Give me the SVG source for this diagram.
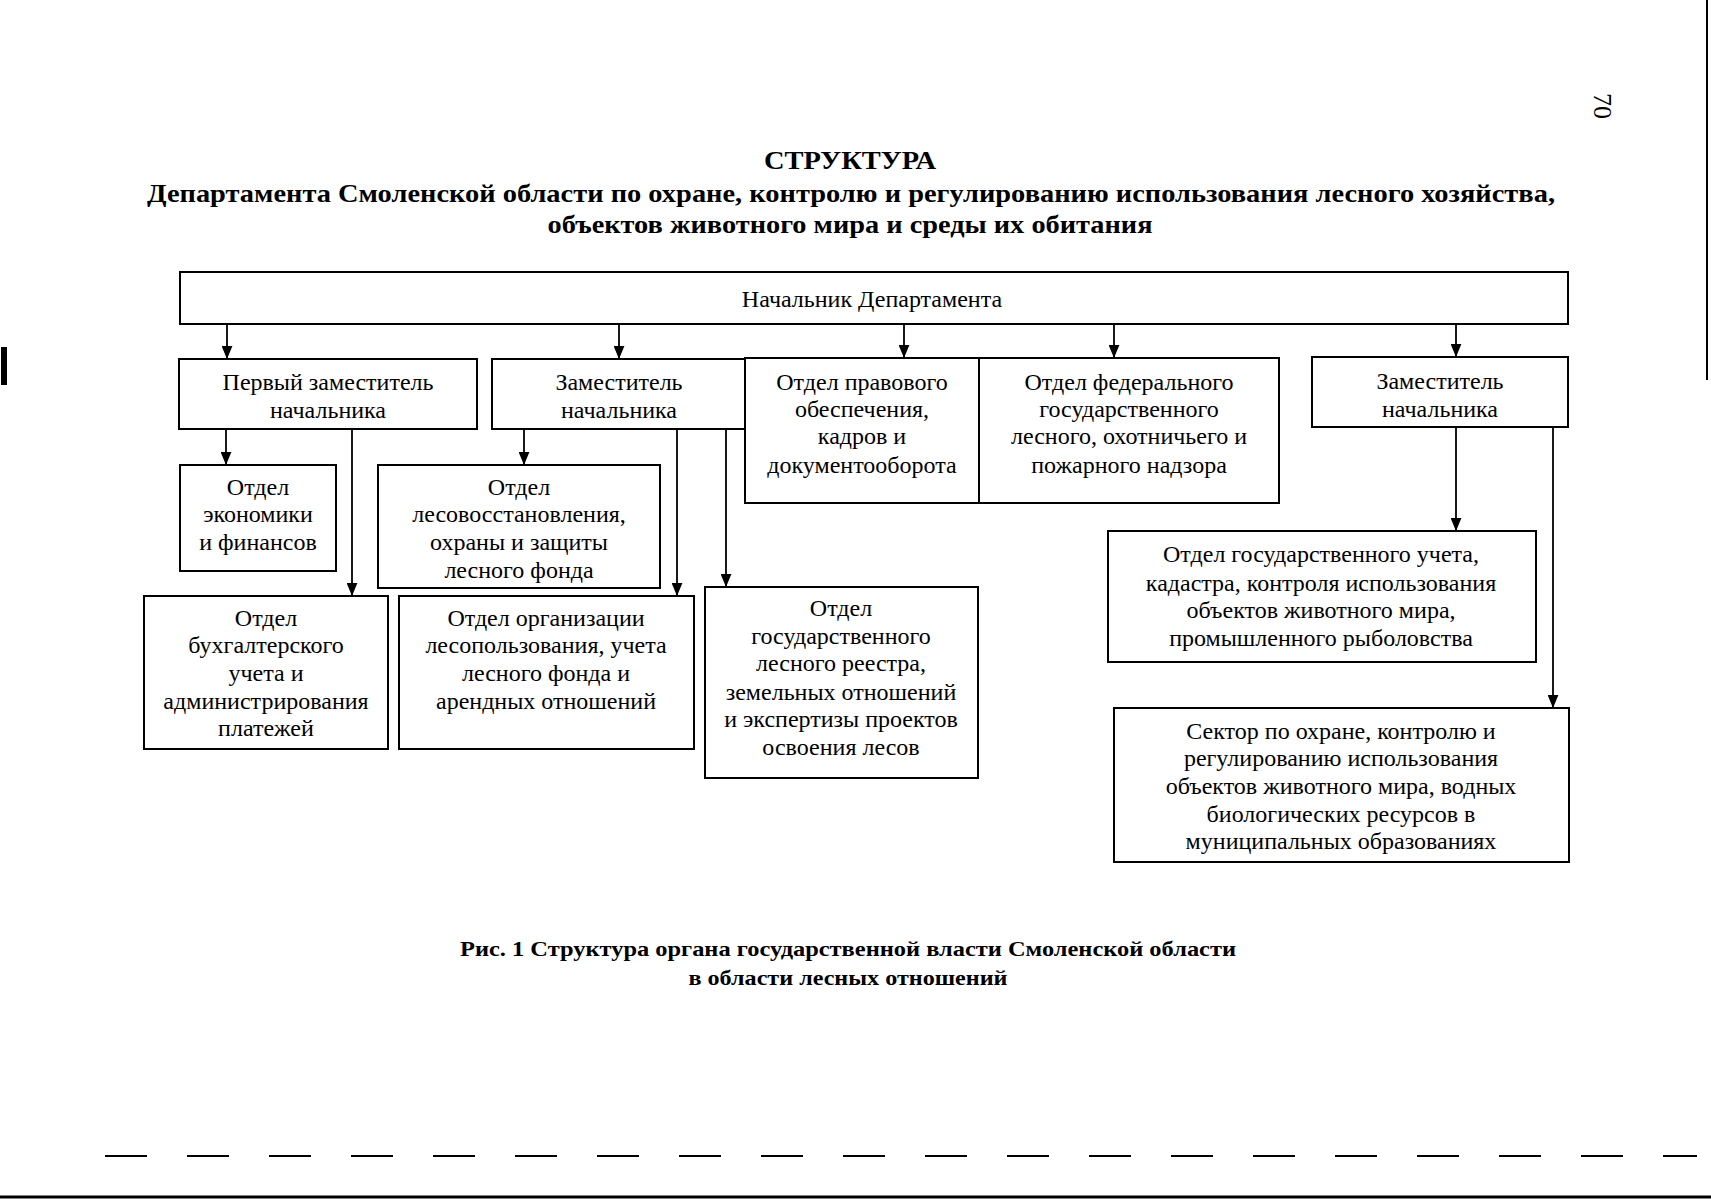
<svg xmlns="http://www.w3.org/2000/svg" width="1711" height="1200" viewBox="0 0 1711 1200">
<style>
  .box { fill: #ffffff; stroke: #000000; stroke-width: 2; }
  .t { font-family: "Liberation Serif", "Times New Roman", serif; font-size: 24px; fill: #000000; text-anchor: middle; }
  .h { font-family: "Liberation Serif", "Times New Roman", serif; font-weight: bold; fill: #000000; text-anchor: middle; }
  .c { stroke: #000000; stroke-width: 1.8; fill: none; marker-end: url(#arr); }
  .art { fill: #000000; }
</style>
<defs>
  <marker id="arr" viewBox="0 0 12 10" markerUnits="userSpaceOnUse" markerWidth="13" markerHeight="11" refX="12" refY="5" orient="auto">
    <path d="M0,0 L12,5 L0,10 z" fill="#000000"/>
  </marker>
</defs>
<rect width="1711" height="1200" fill="#ffffff"/>

<!-- Title -->
<g id="title">
  <text class="h" x="850" y="169" font-size="26" textLength="172" lengthAdjust="spacingAndGlyphs">СТРУКТУРА</text>
  <text class="h" x="851" y="202" font-size="25" textLength="1408" lengthAdjust="spacingAndGlyphs">Департамента Смоленской области по охране, контролю и регулированию использования лесного хозяйства,</text>
  <text class="h" x="850" y="233" font-size="25" textLength="605" lengthAdjust="spacingAndGlyphs">объектов животного мира и среды их обитания</text>
</g>

<!-- Connectors -->
<g id="connectors">
  <line class="c" x1="227" y1="324" x2="227" y2="359"/>
  <line class="c" x1="619" y1="324" x2="619" y2="359"/>
  <line class="c" x1="904" y1="324" x2="904" y2="358"/>
  <line class="c" x1="1114" y1="324" x2="1114" y2="358"/>
  <line class="c" x1="1456" y1="324" x2="1456" y2="357"/>
  <line class="c" x1="226" y1="429" x2="226" y2="465"/>
  <line class="c" x1="352" y1="429" x2="352" y2="596"/>
  <line class="c" x1="524" y1="429" x2="524" y2="465"/>
  <line class="c" x1="677" y1="429" x2="677" y2="596"/>
  <line class="c" x1="726" y1="429" x2="726" y2="587"/>
  <line class="c" x1="1456" y1="427" x2="1456" y2="531"/>
  <line class="c" x1="1553" y1="427" x2="1553" y2="708"/>
</g>

<!-- Nodes -->
<g id="n-head">
  <rect class="box" x="180" y="272" width="1388" height="52"/>
  <text class="t" x="872" y="307">Начальник Департамента</text>
</g>
<g id="n-first-deputy">
  <rect class="box" x="179" y="359" width="298" height="70"/>
  <text class="t" x="328" y="390">Первый заместитель</text>
  <text class="t" x="328" y="418">начальника</text>
</g>
<g id="n-deputy-1">
  <rect class="box" x="492" y="359" width="253" height="70"/>
  <text class="t" x="619" y="390">Заместитель</text>
  <text class="t" x="619" y="418">начальника</text>
</g>
<g id="n-legal">
  <rect class="box" x="745" y="358" width="234" height="145"/>
  <text class="t" x="862" y="390">Отдел правового</text>
  <text class="t" x="862" y="417">обеспечения,</text>
  <text class="t" x="862" y="444">кадров и</text>
  <text class="t" x="862" y="473">документооборота</text>
</g>
<g id="n-federal">
  <rect class="box" x="979" y="358" width="300" height="145"/>
  <text class="t" x="1129" y="390">Отдел федерального</text>
  <text class="t" x="1129" y="417">государственного</text>
  <text class="t" x="1129" y="444">лесного, охотничьего и</text>
  <text class="t" x="1129" y="473">пожарного надзора</text>
</g>
<g id="n-deputy-2">
  <rect class="box" x="1312" y="357" width="256" height="70"/>
  <text class="t" x="1440" y="389">Заместитель</text>
  <text class="t" x="1440" y="417">начальника</text>
</g>
<g id="n-economy">
  <rect class="box" x="180" y="465" width="156" height="106"/>
  <text class="t" x="258" y="495">Отдел</text>
  <text class="t" x="258" y="522">экономики</text>
  <text class="t" x="258" y="550">и финансов</text>
</g>
<g id="n-reforest">
  <rect class="box" x="378" y="465" width="282" height="123"/>
  <text class="t" x="519" y="495">Отдел</text>
  <text class="t" x="519" y="522">лесовосстановления,</text>
  <text class="t" x="519" y="550">охраны и защиты</text>
  <text class="t" x="519" y="578">лесного фонда</text>
</g>
<g id="n-accounting">
  <rect class="box" x="144" y="596" width="244" height="153"/>
  <text class="t" x="266" y="626">Отдел</text>
  <text class="t" x="266" y="653">бухгалтерского</text>
  <text class="t" x="266" y="681">учета и</text>
  <text class="t" x="266" y="709">администрирования</text>
  <text class="t" x="266" y="736">платежей</text>
</g>
<g id="n-forest-use">
  <rect class="box" x="399" y="596" width="295" height="153"/>
  <text class="t" x="546" y="626">Отдел организации</text>
  <text class="t" x="546" y="653">лесопользования, учета</text>
  <text class="t" x="546" y="681">лесного фонда и</text>
  <text class="t" x="546" y="709">арендных отношений</text>
</g>
<g id="n-registry">
  <rect class="box" x="705" y="587" width="273" height="191"/>
  <text class="t" x="841" y="616">Отдел</text>
  <text class="t" x="841" y="644">государственного</text>
  <text class="t" x="841" y="671">лесного реестра,</text>
  <text class="t" x="841" y="700">земельных отношений</text>
  <text class="t" x="841" y="727">и экспертизы проектов</text>
  <text class="t" x="841" y="755">освоения лесов</text>
</g>
<g id="n-wildlife-account">
  <rect class="box" x="1108" y="531" width="428" height="131"/>
  <text class="t" x="1321" y="562">Отдел государственного учета,</text>
  <text class="t" x="1321" y="591">кадастра, контроля использования</text>
  <text class="t" x="1321" y="618">объектов животного мира,</text>
  <text class="t" x="1321" y="646">промышленного рыболовства</text>
</g>
<g id="n-sector">
  <rect class="box" x="1114" y="708" width="455" height="154"/>
  <text class="t" x="1341" y="739">Сектор по охране, контролю и</text>
  <text class="t" x="1341" y="766">регулированию использования</text>
  <text class="t" x="1341" y="794">объектов животного мира, водных</text>
  <text class="t" x="1341" y="822">биологических ресурсов в</text>
  <text class="t" x="1341" y="849">муниципальных образованиях</text>
</g>

<!-- Caption -->
<g id="caption">
  <text class="h" x="848" y="956" font-size="22" textLength="776" lengthAdjust="spacingAndGlyphs">Рис. 1 Структура органа государственной власти Смоленской области</text>
  <text class="h" x="848" y="985" font-size="22" textLength="319" lengthAdjust="spacingAndGlyphs">в области лесных отношений</text>
</g>

<!-- Page number and scan marks -->
<text x="1600" y="106" transform="rotate(90 1600 106)" font-family="Liberation Serif, serif" font-size="26" text-anchor="middle" dominant-baseline="middle" fill="#000000">70</text>
<rect class="art" x="1" y="347" width="6" height="38"/>
<line x1="1707" y1="0" x2="1707" y2="380" stroke="#000000" stroke-width="2"/>
<line x1="105" y1="1156" x2="1697" y2="1156" stroke="#000000" stroke-width="2" stroke-dasharray="42 40"/>
<line x1="0" y1="1197" x2="1711" y2="1197" stroke="#000000" stroke-width="3"/>
</svg>
